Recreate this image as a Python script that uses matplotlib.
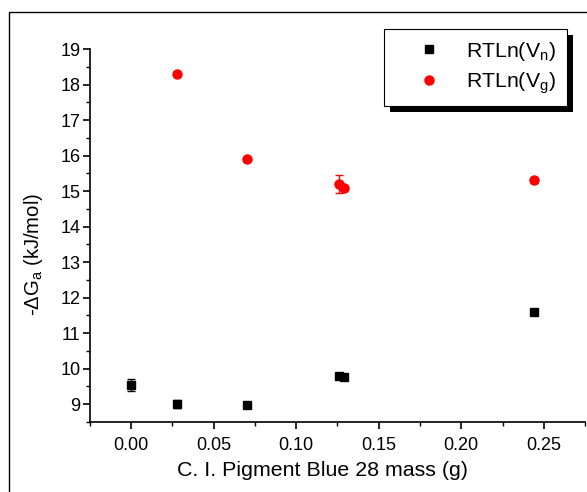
import numpy as np
import matplotlib
import matplotlib.pyplot as plt
from matplotlib.patches import Rectangle
from matplotlib.lines import Line2D
from matplotlib.ticker import MultipleLocator, FormatStrFormatter

plt.rcParams['font.family'] = ['Liberation Sans', 'DejaVu Sans']
plt.rcParams['mathtext.fontset'] = 'custom'
plt.rcParams['mathtext.rm'] = 'Liberation Sans'
plt.rcParams['mathtext.it'] = 'Liberation Sans'

# data
mass_n = [0.0, 0.028, 0.070, 0.126, 0.129, 0.244]
vn = [9.54, 9.00, 8.97, 9.79, 9.77, 11.59]
vn_err = [0.16, 0.12, 0.05, 0.05, 0.05, 0.05]

mass_g = [0.028, 0.070, 0.126, 0.129, 0.244]
vg = [18.30, 15.90, 15.20, 15.10, 15.30]
vg_err = [0.05, 0.05, 0.24, 0.05, 0.08]

labels = ['RTLn(V$_n$)', 'RTLn(V$_g$)']

fig = plt.figure(figsize=(5.87, 4.92), dpi=100)
ax = fig.add_axes([0.1533, 0.1423, 0.8433, 0.7581])

ax.errorbar(mass_n, vn, yerr=vn_err, fmt='s', color='black', ms=6,
            capsize=3, elinewidth=1)
ax.errorbar(mass_g, vg, yerr=vg_err, fmt='o', color='red', ms=6.5,
            capsize=3, elinewidth=1)

ax.set_xlim(-0.025, 0.275)
ax.set_ylim(8.5, 19)
ax.xaxis.set_major_locator(MultipleLocator(0.05))
ax.xaxis.set_minor_locator(MultipleLocator(0.025))
ax.yaxis.set_major_locator(MultipleLocator(1))
ax.yaxis.set_minor_locator(MultipleLocator(0.5))
ax.xaxis.set_major_formatter(FormatStrFormatter('%.2f'))

for s in ['top', 'right']:
    ax.spines[s].set_visible(False)
for s in ['left', 'bottom']:
    ax.spines[s].set_linewidth(1.2)

ax.tick_params(which='major', direction='out', length=5, width=1.2, labelsize=13)
ax.tick_params(axis='y', which='major', pad=2)
ax.tick_params(axis='x', which='major', pad=6)
ax.tick_params(which='minor', direction='out', length=3, width=1)

ax.set_xlabel('C. I. Pigment Blue 28 mass (g)', fontsize=15.4)
ax.set_ylabel('-$\\Delta$G$_a$ (kJ/mol)', fontsize=14.6)
ax.xaxis.set_label_coords(0.469, -0.105)
ax.yaxis.set_label_coords(-0.09, 0.45)

handles = [Line2D([], [], ls='none', marker='s', color='black', ms=6),
           Line2D([], [], ls='none', marker='o', color='red', ms=6.5)]
leg = ax.legend(handles, labels, loc='upper right',
                bbox_to_anchor=(567 / 587, 463 / 492),
                bbox_transform=fig.transFigure, fontsize=15.3,
                frameon=True, fancybox=False, edgecolor='black',
                facecolor='white', framealpha=1,
                handletextpad=0.15, handlelength=3.25, borderpad=0.5,
                labelspacing=0.35, borderaxespad=0)
leg.get_frame().set_linewidth(0.8)

# black drop shadow behind the legend
fig.canvas.draw()
bb = leg.get_window_extent()
shadow = Rectangle((bb.x0 + 6, bb.y0 - 6), bb.width, bb.height,
                   transform=None, facecolor='black', edgecolor='none',
                   zorder=4, clip_on=False)
ax.add_artist(shadow)

# outer frame (only left and top edges fall inside the image)
frame = Rectangle((9 / 587, -0.1), 1.2, 1.1 - 12 / 492,
                  transform=fig.transFigure, fill=False,
                  edgecolor='black', linewidth=1.0)
fig.add_artist(frame)

fig.savefig('out.png', dpi=100)
